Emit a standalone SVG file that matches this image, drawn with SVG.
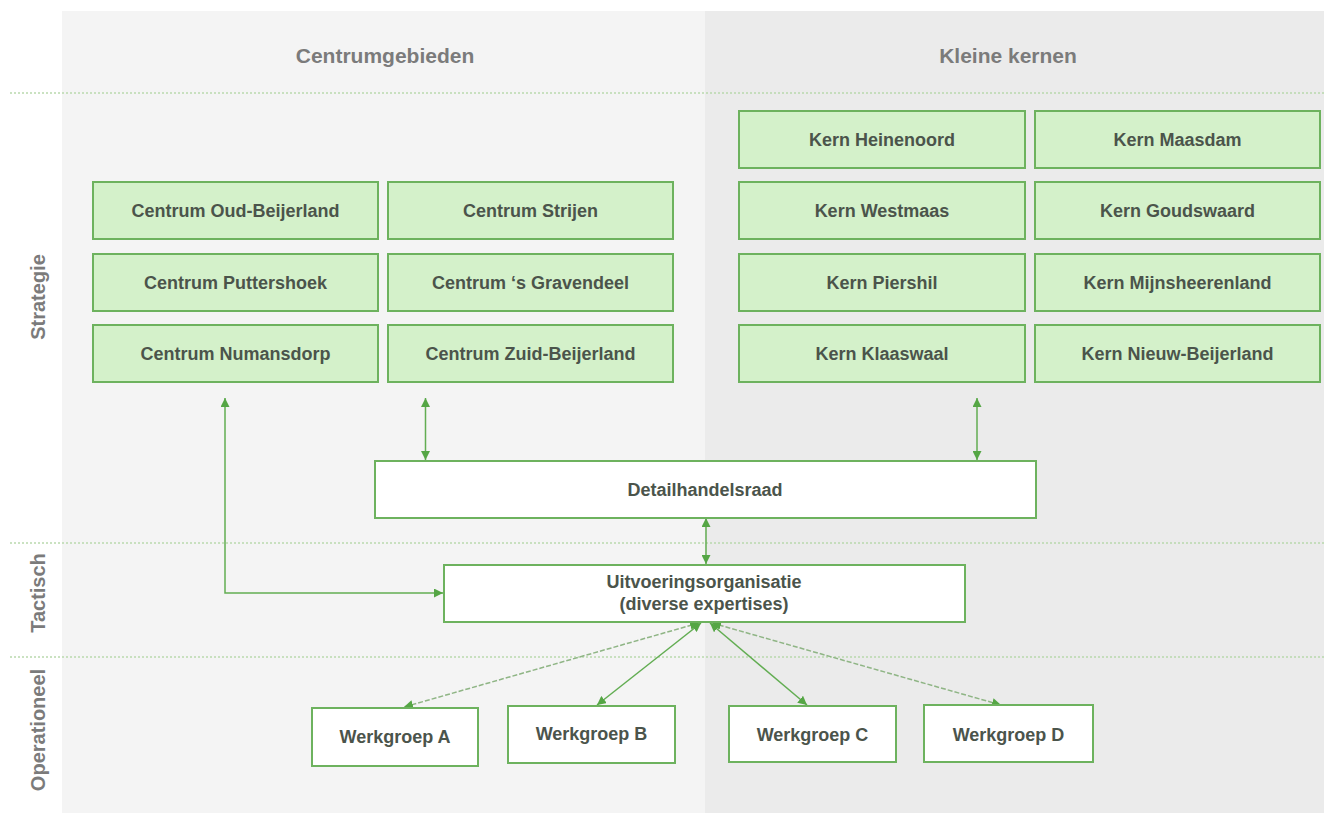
<svg xmlns="http://www.w3.org/2000/svg" width="1324" height="813" viewBox="0 0 1324 813">
<defs>
<style>
.bgL{fill:#f4f4f4}
.bgR{fill:#ebebeb}
.sep{stroke:#b9d9ad;stroke-width:1.5;stroke-dasharray:2 2;fill:none}
.hdr{font-family:"Liberation Sans",Arial,sans-serif;font-weight:bold;font-size:21px;fill:#7b7b7b;text-anchor:middle}
.lvl{font-family:"Liberation Sans",Arial,sans-serif;font-weight:bold;font-size:20px;fill:#7b7b7b;text-anchor:middle}
.g{fill:#d4f1ca;stroke:#6db25e;stroke-width:2}
.w{fill:#ffffff;stroke:#6db25e;stroke-width:2}
.t{font-family:"Liberation Sans",Arial,sans-serif;font-weight:bold;font-size:18px;fill:#4b544b;text-anchor:middle}
.c{stroke:#62ad52;stroke-width:1.5;fill:none;marker-start:url(#ah);marker-end:url(#ah)}
.cd{stroke:#8fb585;stroke-width:1.5;fill:none;stroke-dasharray:5 2;marker-start:url(#ah);marker-end:url(#ah)}
</style>
<marker id="ah" viewBox="0 0 10 10" refX="10" refY="5" markerWidth="9" markerHeight="9" markerUnits="userSpaceOnUse" orient="auto-start-reverse">
<path d="M0,0 L10,5 L0,10 z" fill="#55a645"/>
</marker>
</defs>

<rect x="0" y="0" width="1324" height="813" fill="#ffffff"/>
<rect class="bgL" x="62" y="11" width="643" height="802"/>
<rect class="bgR" x="705" y="11" width="619" height="802"/>

<g id="separators">
<line class="sep" x1="10" y1="93" x2="1324" y2="93"/>
<line class="sep" x1="10" y1="543" x2="1324" y2="543"/>
<line class="sep" x1="10" y1="657" x2="1324" y2="657"/>
</g>

<g id="headers">
<text class="hdr" x="385" y="63">Centrumgebieden</text>
<text class="hdr" x="1008" y="63">Kleine kernen</text>
</g>

<g id="levels">
<text class="lvl" transform="translate(45,297) rotate(-90)">Strategie</text>
<text class="lvl" transform="translate(45,593) rotate(-90)">Tactisch</text>
<text class="lvl" transform="translate(45,730) rotate(-90)">Operationeel</text>
</g>

<g id="connectors">
<path class="c" d="M225,398 V593 H443"/>
<path class="c" d="M425.5,398 V460"/>
<path class="c" d="M977,398 V460"/>
<path class="c" d="M706,518 V564"/>
<path class="cd" d="M699,623 L404,707"/>
<path class="c" d="M701,623 L597,705"/>
<path class="c" d="M710,623 L807,705"/>
<path class="cd" d="M712,623 L1001,705"/>
</g>

<g id="centrum-oud-beijerland"><rect class="g" x="93" y="182" width="285" height="57"/><text class="t" x="235.5" y="217">Centrum Oud-Beijerland</text></g>
<g id="centrum-strijen"><rect class="g" x="388" y="182" width="285" height="57"/><text class="t" x="530.5" y="217">Centrum Strijen</text></g>
<g id="centrum-puttershoek"><rect class="g" x="93" y="254" width="285" height="57"/><text class="t" x="235.5" y="289">Centrum Puttershoek</text></g>
<g id="centrum-gravendeel"><rect class="g" x="388" y="254" width="285" height="57"/><text class="t" x="530.5" y="289">Centrum ‘s Gravendeel</text></g>
<g id="centrum-numansdorp"><rect class="g" x="93" y="325" width="285" height="57"/><text class="t" x="235.5" y="360">Centrum Numansdorp</text></g>
<g id="centrum-zuid-beijerland"><rect class="g" x="388" y="325" width="285" height="57"/><text class="t" x="530.5" y="360">Centrum Zuid-Beijerland</text></g>

<g id="kern-heinenoord"><rect class="g" x="739" y="111" width="286" height="57"/><text class="t" x="882" y="146">Kern Heinenoord</text></g>
<g id="kern-maasdam"><rect class="g" x="1035" y="111" width="285" height="57"/><text class="t" x="1177.5" y="146">Kern Maasdam</text></g>
<g id="kern-westmaas"><rect class="g" x="739" y="182" width="286" height="57"/><text class="t" x="882" y="217">Kern Westmaas</text></g>
<g id="kern-goudswaard"><rect class="g" x="1035" y="182" width="285" height="57"/><text class="t" x="1177.5" y="217">Kern Goudswaard</text></g>
<g id="kern-piershil"><rect class="g" x="739" y="254" width="286" height="57"/><text class="t" x="882" y="289">Kern Piershil</text></g>
<g id="kern-mijnsheerenland"><rect class="g" x="1035" y="254" width="285" height="57"/><text class="t" x="1177.5" y="289">Kern Mijnsheerenland</text></g>
<g id="kern-klaaswaal"><rect class="g" x="739" y="325" width="286" height="57"/><text class="t" x="882" y="360">Kern Klaaswaal</text></g>
<g id="kern-nieuw-beijerland"><rect class="g" x="1035" y="325" width="285" height="57"/><text class="t" x="1177.5" y="360">Kern Nieuw-Beijerland</text></g>

<g id="detailhandelsraad"><rect class="w" x="375" y="461" width="661" height="57"/><text class="t" x="705" y="496">Detailhandelsraad</text></g>
<g id="uitvoeringsorganisatie"><rect class="w" x="444" y="565" width="521" height="57"/><text class="t" x="704" y="588">Uitvoeringsorganisatie</text><text class="t" x="704" y="610">(diverse expertises)</text></g>

<g id="werkgroep-a"><rect class="w" x="312" y="708" width="166" height="58"/><text class="t" x="395" y="743">Werkgroep A</text></g>
<g id="werkgroep-b"><rect class="w" x="508" y="706" width="167" height="57"/><text class="t" x="591.5" y="740">Werkgroep B</text></g>
<g id="werkgroep-c"><rect class="w" x="729" y="706" width="167" height="56"/><text class="t" x="812.5" y="741">Werkgroep C</text></g>
<g id="werkgroep-d"><rect class="w" x="924" y="705" width="169" height="57"/><text class="t" x="1008.5" y="741">Werkgroep D</text></g>
</svg>
